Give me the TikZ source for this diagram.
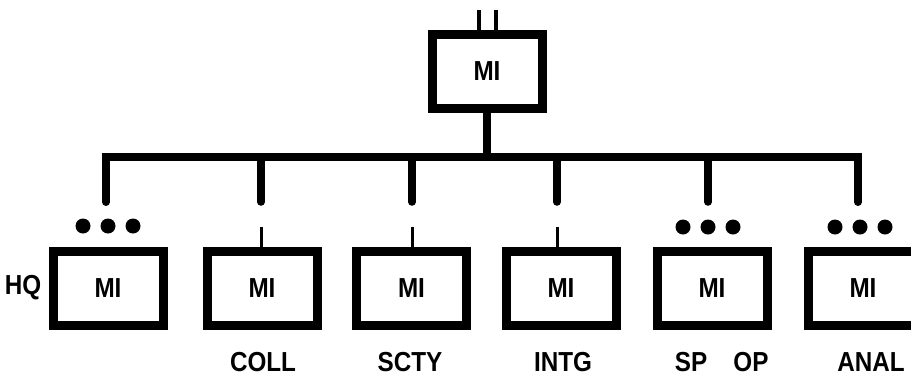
\documentclass[tikz,border=0pt]{standalone}
\usepackage{fontspec}
\usepackage{graphicx}
\setmainfont{Liberation Sans}
\newcommand{\tallt}[1]{\scalebox{0.97}[1.1]{#1}}
\begin{document}
\begin{tikzpicture}[x=1pt,y=-1pt,
  mibox/.style={draw, line width=9pt, minimum width=110pt, minimum height=74pt, inner sep=0pt, font=\fontsize{25}{25}\selectfont\bfseries},
  lbl/.style={inner sep=0pt, font=\fontsize{25}{25}\selectfont\bfseries},
  busline/.style={line width=8pt, line join=miter, line cap=round},
  drop/.style={line width=7.5pt, line cap=round},
  thinline/.style={line width=3pt},
  stubline/.style={line width=4pt},
  dotnode/.style={circle, fill, inner sep=0pt, minimum size=15pt}]
\useasboundingbox (0,0) rectangle (911,378);
\clip (0,0) rectangle (911,378);
% top box
\node[mibox] (top) at (487,71) {\tallt{MI}};
\coordinate (s1) at (479,10);
\coordinate (s2) at (496,10);
\draw[stubline] (s1) -- (s1 |- top.north);
\draw[stubline] (s2) -- (s2 |- top.north);
% lower boxes
\node[mibox] (hq) at (108,288.5) {\tallt{MI}};
\node[mibox] (coll) at (262,288.5) {\tallt{MI}};
\node[mibox] (scty) at (411.5,288.5) {\tallt{MI}};
\node[mibox] (intg) at (561,288.5) {\tallt{MI}};
\node[mibox] (spop) at (712,288.5) {\tallt{MI}};
\node[mibox] (anal) at (863,288.5) {\tallt{MI}};
% bus
\coordinate (bstem) at (485,157);
\coordinate (b1) at (106,157);
\coordinate (b2) at (261,157);
\coordinate (b3) at (412,157);
\coordinate (b4) at (557,157);
\coordinate (b5) at (708,157);
\coordinate (b6) at (858,157);
\coordinate (d1) at (106,202);
\coordinate (d2) at (261,202);
\coordinate (d3) at (412,202);
\coordinate (d4) at (557,202);
\coordinate (d5) at (708,202);
\coordinate (d6) at (858,202);
\draw[busline] (d1) -- (b1) -- (b6) -- (d6);
\draw[drop] (bstem -| top.south) -- (top.south);
\draw[drop] (b2) -- (d2);
\draw[drop] (b3) -- (d3);
\draw[drop] (b4) -- (d4);
\draw[drop] (b5) -- (d5);
% thin stubs
\coordinate (t2) at (261,227);
\coordinate (t3) at (412,227);
\coordinate (t4) at (557,227);
\draw[thinline] (t2) -- (t2 |- coll.north);
\draw[thinline] (t3) -- (t3 |- scty.north);
\draw[thinline] (t4) -- (t4 |- intg.north);
% dots
\node[dotnode] (h1) at (83,226) {};
\node[dotnode] (h2) at (108,226) {};
\node[dotnode] (h3) at (133,226) {};
\node[dotnode] (p1) at (683,227) {};
\node[dotnode] (p2) at (708,227) {};
\node[dotnode] (p3) at (733,227) {};
\node[dotnode] (a1) at (835,227) {};
\node[dotnode] (a2) at (860,227) {};
\node[dotnode] (a3) at (885,227) {};
% labels
\node[lbl] (lhq) at (23,288) {\tallt{HQ}};
\node[lbl] (lcoll) at (263,362) {\tallt{COLL}};
\node[lbl] (lscty) at (410,362) {\tallt{SCTY}};
\node[lbl] (lintg) at (563,362) {\tallt{INTG}};
\node[lbl] (lsp) at (691,362) {\tallt{SP}};
\node[lbl] (lop) at (751,362) {\tallt{OP}};
\node[lbl] (lanal) at (871,362) {\tallt{ANAL}};
\end{tikzpicture}
\end{document}
